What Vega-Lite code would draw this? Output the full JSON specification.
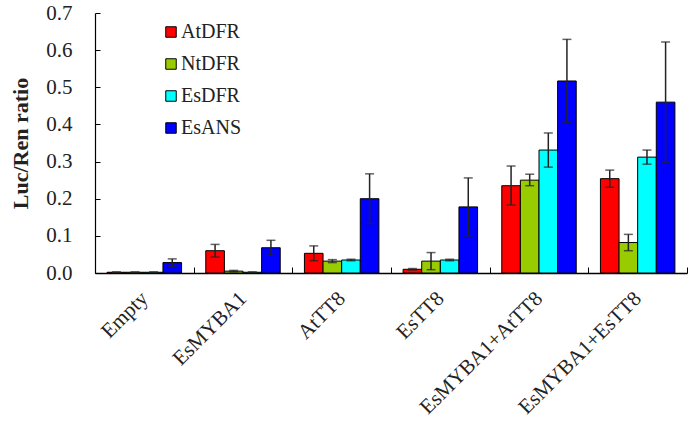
{
  "$schema": "https://vega.github.io/schema/vega-lite/v6.json",
  "autosize": "none",
  "width": 592,
  "height": 260,
  "padding": {"left": 95, "top": 13, "right": 3, "bottom": 152},
  "background": "white",
  "config": {
    "view": {"stroke": null},
    "font": "Liberation Serif",
    "axis": {"labelFont": "Liberation Serif", "titleFont": "Liberation Serif", "domainColor": "black", "tickColor": "black", "labelColor": "#222", "titleColor": "#222", "grid": false},
    "axisY": {"titleFontSize": 22, "titleFontWeight": "bold", "titlePadding": 13, "format": ".1f", "labelFontSize": 21, "labelPadding": 28, "labelOverlap": false, "tickSize": -5, "domainWidth": 1.2}
  },
  "data": {
    "values": [
      {"group": "Empty", "gene": "AtDFR", "value": 0.002, "lo": 0.001, "hi": 0.003},
      {"group": "Empty", "gene": "NtDFR", "value": 0.002, "lo": 0.001, "hi": 0.003},
      {"group": "Empty", "gene": "EsDFR", "value": 0.002, "lo": 0.001, "hi": 0.003},
      {"group": "Empty", "gene": "EsANS", "value": 0.028, "lo": 0.018, "hi": 0.038},
      {"group": "EsMYBA1", "gene": "AtDFR", "value": 0.06, "lo": 0.043, "hi": 0.077},
      {"group": "EsMYBA1", "gene": "NtDFR", "value": 0.005, "lo": 0.003, "hi": 0.007},
      {"group": "EsMYBA1", "gene": "EsDFR", "value": 0.002, "lo": 0.001, "hi": 0.003},
      {"group": "EsMYBA1", "gene": "EsANS", "value": 0.068, "lo": 0.048, "hi": 0.088},
      {"group": "AtTT8", "gene": "AtDFR", "value": 0.053, "lo": 0.033, "hi": 0.073},
      {"group": "AtTT8", "gene": "NtDFR", "value": 0.032, "lo": 0.028, "hi": 0.036},
      {"group": "AtTT8", "gene": "EsDFR", "value": 0.035, "lo": 0.033, "hi": 0.037},
      {"group": "AtTT8", "gene": "EsANS", "value": 0.2, "lo": 0.133, "hi": 0.267},
      {"group": "EsTT8", "gene": "AtDFR", "value": 0.01, "lo": 0.008, "hi": 0.012},
      {"group": "EsTT8", "gene": "NtDFR", "value": 0.032, "lo": 0.009, "hi": 0.055},
      {"group": "EsTT8", "gene": "EsDFR", "value": 0.035, "lo": 0.033, "hi": 0.037},
      {"group": "EsTT8", "gene": "EsANS", "value": 0.178, "lo": 0.1, "hi": 0.256},
      {"group": "EsMYBA1+AtTT8", "gene": "AtDFR", "value": 0.235, "lo": 0.183, "hi": 0.288},
      {"group": "EsMYBA1+AtTT8", "gene": "NtDFR", "value": 0.25, "lo": 0.235, "hi": 0.266},
      {"group": "EsMYBA1+AtTT8", "gene": "EsDFR", "value": 0.331, "lo": 0.285, "hi": 0.377},
      {"group": "EsMYBA1+AtTT8", "gene": "EsANS", "value": 0.517, "lo": 0.405, "hi": 0.629},
      {"group": "EsMYBA1+EsTT8", "gene": "AtDFR", "value": 0.254, "lo": 0.231, "hi": 0.277},
      {"group": "EsMYBA1+EsTT8", "gene": "NtDFR", "value": 0.082, "lo": 0.06, "hi": 0.104},
      {"group": "EsMYBA1+EsTT8", "gene": "EsDFR", "value": 0.312, "lo": 0.293, "hi": 0.331},
      {"group": "EsMYBA1+EsTT8", "gene": "EsANS", "value": 0.46, "lo": 0.298, "hi": 0.622}
    ]
  },
  "encoding": {
    "x": {
      "field": "group", "type": "nominal", "sort": null,
      "scale": {"paddingInner": 0, "paddingOuter": 0},
      "axis": {"title": null, "labelAngle": -45, "labelAlign": "right", "labelBaseline": "middle", "labelFontSize": 21, "labelPadding": 28, "labelOverlap": false, "tickBand": "extent", "tickSize": -6, "domainWidth": 1.5}
    },
    "xOffset": {"field": "gene", "type": "nominal", "sort": ["AtDFR", "NtDFR", "EsDFR", "EsANS"], "scale": {"paddingInner": 0, "paddingOuter": 0.65}}
  },
  "layer": [
    {
      "mark": {"type": "bar", "stroke": "black", "strokeWidth": 1},
      "encoding": {
        "y": {"field": "value", "type": "quantitative", "scale": {"domain": [0, 0.7], "nice": false},
          "axis": {"title": "Luc/Ren ratio", "values": [0, 0.1, 0.2, 0.3, 0.4, 0.5, 0.6, 0.7]}},
        "color": {"field": "gene", "type": "nominal", "sort": ["AtDFR", "NtDFR", "EsDFR", "EsANS"],
          "scale": {"domain": ["AtDFR", "NtDFR", "EsDFR", "EsANS"], "range": ["#FF0000", "#99CC00", "#00FFFF", "#0000FF"]},
          "legend": {"title": null, "orient": "none", "legendX": 66, "legendY": 9, "symbolType": "square", "symbolSize": 110, "symbolStrokeColor": "black", "symbolStrokeWidth": 1, "labelFont": "Liberation Serif", "labelFontSize": 20, "labelColor": "#222", "rowPadding": 12, "labelOffset": 0}}
      }
    },
    {
      "mark": {"type": "rule", "color": "#222", "strokeWidth": 1.5},
      "encoding": {"y": {"field": "lo", "type": "quantitative", "axis": {"title": "Luc/Ren ratio", "values": [0, 0.1, 0.2, 0.3, 0.4, 0.5, 0.6, 0.7]}}, "y2": {"field": "hi"}}
    },
    {
      "mark": {"type": "tick", "color": "#222", "thickness": 1.5, "size": 9},
      "encoding": {"y": {"field": "lo", "type": "quantitative", "axis": {"title": "Luc/Ren ratio", "values": [0, 0.1, 0.2, 0.3, 0.4, 0.5, 0.6, 0.7]}}}
    },
    {
      "mark": {"type": "tick", "color": "#222", "thickness": 1.5, "size": 9},
      "encoding": {"y": {"field": "hi", "type": "quantitative", "axis": {"title": "Luc/Ren ratio", "values": [0, 0.1, 0.2, 0.3, 0.4, 0.5, 0.6, 0.7]}}}
    }
  ]
}
